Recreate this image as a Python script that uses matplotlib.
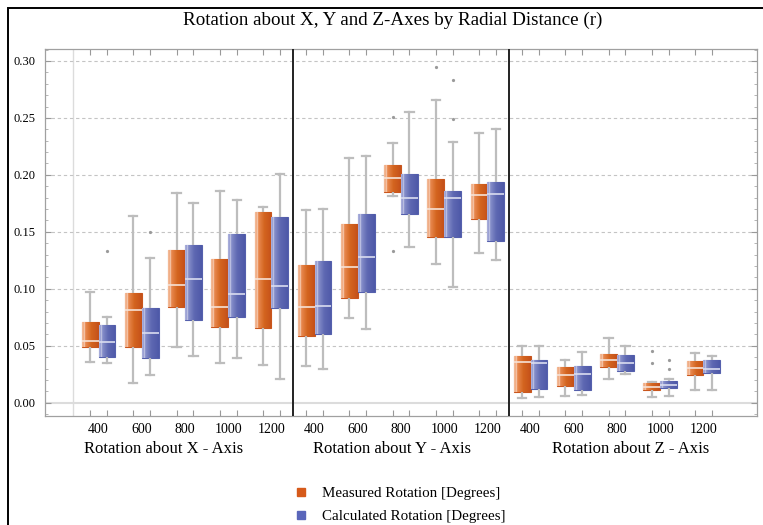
import numpy as np
import matplotlib
matplotlib.use("Agg")
import matplotlib.pyplot as plt
from matplotlib.patches import Rectangle
from matplotlib.lines import Line2D
from matplotlib.colors import to_rgb
from matplotlib.ticker import MultipleLocator

plt.rcParams['font.family'] = ['Liberation Serif', 'DejaVu Serif']

# ---- data -------------------------------------------------------------
distances = ["400", "600", "800", "1000", "1200"]
groups = ["Rotation about X - Axis", "Rotation about Y - Axis", "Rotation about Z - Axis"]
series = ["Measured Rotation [Degrees]", "Calculated Rotation [Degrees]"]

# per group: lists over distances -> (whislo, q1, med, q3, whishi)
measured_x_lo  = [0.036, 0.0175, 0.049, 0.0345, 0.033]
measured_x_q1  = [0.049, 0.0485, 0.084, 0.066, 0.0655]
measured_x_med = [0.054, 0.081, 0.103, 0.084, 0.1085]
measured_x_q3  = [0.071, 0.096, 0.134, 0.126, 0.1675]
measured_x_hi  = [0.097, 0.164, 0.184, 0.186, 0.172]
measured_x_out = [[], [], [], [], []]

calculated_x_lo  = [0.0345, 0.024, 0.041, 0.039, 0.0205]
calculated_x_q1  = [0.040, 0.039, 0.073, 0.075, 0.083]
calculated_x_med = [0.0535, 0.061, 0.109, 0.095, 0.102]
calculated_x_q3  = [0.068, 0.083, 0.138, 0.148, 0.1626]
calculated_x_hi  = [0.075, 0.127, 0.175, 0.178, 0.2006]
calculated_x_out = [[0.133], [0.150], [], [], []]

measured_y_lo  = [0.032, 0.0746, 0.1816, 0.122, 0.131]
measured_y_q1  = [0.0585, 0.0915, 0.185, 0.1456, 0.161]
measured_y_med = [0.0836, 0.119, 0.197, 0.1696, 0.182]
measured_y_q3  = [0.121, 0.157, 0.2085, 0.196, 0.192]
measured_y_hi  = [0.169, 0.215, 0.228, 0.2655, 0.237]
measured_y_out = [[], [], [0.251, 0.133], [0.295], []]

calculated_y_lo  = [0.030, 0.0646, 0.1365, 0.1018, 0.1254]
calculated_y_q1  = [0.060, 0.097, 0.166, 0.1456, 0.1418]
calculated_y_med = [0.085, 0.128, 0.180, 0.180, 0.1833]
calculated_y_q3  = [0.124, 0.166, 0.201, 0.1857, 0.1936]
calculated_y_hi  = [0.170, 0.217, 0.255, 0.2287, 0.240]
calculated_y_out = [[], [], [], [0.283, 0.249], []]

measured_z_lo  = [0.0038, 0.0058, 0.0209, 0.005, 0.011]
measured_z_q1  = [0.0093, 0.0145, 0.0314, 0.0108, 0.0244]
measured_z_med = [0.0358, 0.0247, 0.0378, 0.014, 0.0305]
measured_z_q3  = [0.0413, 0.0314, 0.0424, 0.0169, 0.0366]
measured_z_hi  = [0.050, 0.0378, 0.0564, 0.018, 0.0439]
measured_z_out = [[], [], [], [0.0456, 0.0352], []]

calculated_z_lo  = [0.005, 0.0064, 0.025, 0.0055, 0.011]
calculated_z_q1  = [0.0116, 0.011, 0.0282, 0.0128, 0.0262]
calculated_z_med = [0.0345, 0.0256, 0.0349, 0.0154, 0.030]
calculated_z_q3  = [0.0372, 0.0326, 0.0419, 0.0189, 0.0372]
calculated_z_hi  = [0.0494, 0.0445, 0.050, 0.0209, 0.0413]
calculated_z_out = [[], [], [], [0.0378, 0.030], []]

y_ticks = [0.00, 0.05, 0.10, 0.15, 0.20, 0.25, 0.30]

measured = [
    (measured_x_lo, measured_x_q1, measured_x_med, measured_x_q3, measured_x_hi, measured_x_out),
    (measured_y_lo, measured_y_q1, measured_y_med, measured_y_q3, measured_y_hi, measured_y_out),
    (measured_z_lo, measured_z_q1, measured_z_med, measured_z_q3, measured_z_hi, measured_z_out),
]
calculated = [
    (calculated_x_lo, calculated_x_q1, calculated_x_med, calculated_x_q3, calculated_x_hi, calculated_x_out),
    (calculated_y_lo, calculated_y_q1, calculated_y_med, calculated_y_q3, calculated_y_hi, calculated_y_out),
    (calculated_z_lo, calculated_z_q1, calculated_z_med, calculated_z_q3, calculated_z_hi, calculated_z_out),
]

# ---- styling ----------------------------------------------------------
ORANGE = "#C9561D"
BLUE = "#5560AD"
ORANGE_STOPS = [(0.0, "#F3BE9C"), (0.11, "#EFA57A"), (0.14, "#FBE6D8"), (0.19, "#E98A52"),
                (0.55, "#D4651F"), (1.0, "#C4501A")]
BLUE_STOPS = [(0.0, "#AEB3DD"), (0.11, "#9198CF"), (0.14, "#E2E4F3"), (0.19, "#8890CB"),
              (0.55, "#5E68B2"), (1.0, "#4E59A8")]


def gradient(stops, n=64):
    xs = np.linspace(0, 1, n)
    pos = [s[0] for s in stops]
    cols = np.array([to_rgb(s[1]) for s in stops])
    rgb = np.stack([np.interp(xs, pos, cols[:, c]) for c in range(3)], axis=-1)
    return rgb[np.newaxis, :, :]


W_PX, H_PX = 763, 525
fig = plt.figure(figsize=(W_PX / 100, H_PX / 100), dpi=100)
ax = fig.add_axes([45 / W_PX, 1 - 416 / H_PX, 712 / W_PX, 367 / H_PX])

offset = 0.195
box_w = 0.39
pair_centers = []
box_positions = []

for g in range(3):
    for s_idx, (data, color, stops) in enumerate(
            [(measured[g], ORANGE, ORANGE_STOPS), (calculated[g], BLUE, BLUE_STOPS)]):
        lo, q1, med, q3, hi, out = data
        stats = []
        positions = []
        for k in range(len(distances)):
            c = 1.24 + k + 5 * g
            if s_idx == 0:
                pair_centers.append(c)
            pos = c - offset if s_idx == 0 else c + offset
            positions.append(pos)
            box_positions.append(pos)
            stats.append(dict(whislo=lo[k], q1=q1[k], med=med[k], q3=q3[k],
                              whishi=hi[k], fliers=out[k]))
        res = ax.bxp(stats, positions=positions, widths=box_w, capwidths=0.19,
                     patch_artist=True, manage_ticks=False,
                     boxprops=dict(facecolor=color, edgecolor=color, linewidth=0.8),
                     whiskerprops=dict(color="#BDBDBD", linewidth=1.6),
                     capprops=dict(color="#BDBDBD", linewidth=1.6),
                     medianprops=dict(color="#F6E2D6" if s_idx == 0 else "#DADDF0", linewidth=1.2),
                     flierprops=dict(marker="o", markersize=1.3, markerfacecolor="#9A9A9A",
                                     markeredgecolor="#9A9A9A"))
        grad = gradient(stops)
        for patch in res["boxes"]:
            ext = patch.get_path().get_extents()
            im = ax.imshow(grad, extent=[ext.x0, ext.x1, ext.y0, ext.y1],
                           aspect="auto", interpolation="bilinear", zorder=patch.get_zorder() + 0.01)
            im.set_clip_path(patch)
        for m in res["medians"]:
            m.set_zorder(4)

# reference lines
ax.axhline(0.0, color="#DCDCDC", linewidth=1.5, zorder=0.5)
ax.axvline(0.64, color="#DCDCDC", linewidth=1.0, zorder=0.5)
for yv in y_ticks[1:]:
    ax.axhline(yv, color="#C4C4C4", linewidth=0.8, linestyle=(0, (3, 2.5)), zorder=0.5)
for xv in [5.74, 10.74]:
    ax.axvline(xv, color="#222222", linewidth=1.4, zorder=5)

ax.set_xlim(0, 16.48)
ax.set_ylim(-0.0117, 0.3105)

# ticks
ax.set_yticks(y_ticks)
ax.set_yticklabels([f"{v:.2f}" for v in y_ticks])
ax.yaxis.set_minor_locator(MultipleLocator(0.01))
ax.set_xticks(pair_centers)
ax.set_xticklabels(distances * 3)
ax.set_xticks(box_positions, minor=True)
ax.tick_params(axis="x", which="major", length=0, pad=5, labelsize=10)
ax.tick_params(axis="x", which="minor", length=4, direction="in", top=True, bottom=True,
               color="#999999", width=0.8)
ax.tick_params(axis="y", which="major", length=4, direction="in", left=True, right=True,
               color="#999999", width=0.8, labelsize=9, pad=7)
ax.tick_params(axis="y", which="minor", length=2, direction="in", left=True, right=True,
               color="#AAAAAA", width=0.6)
for sp in ax.spines.values():
    sp.set_color("#A0A0A0")
    sp.set_linewidth(0.9)

# group labels
for g, label in enumerate(groups):
    xc = [2.75, 8.03, 13.56][g]
    ax.text(xc, -0.0117 - 33 / 1139, label, ha="center", va="center", fontsize=12,
            transform=ax.transData, clip_on=False)

fig.suptitle("Rotation about X, Y and Z-Axes by Radial Distance (r)", x=393 / W_PX,
             y=1 - 20 / H_PX, va="center", fontsize=13.7)

handles = [Line2D([], [], linestyle="none", marker="s", markersize=5.5,
                  markerfacecolor=c, markeredgecolor=c) for c in ["#D65A1A", "#5A66BA"]]
fig.legend(handles, series, loc="center", bbox_to_anchor=(399 / W_PX, 1 - 505 / H_PX),
           frameon=False, fontsize=10.8, handlelength=1.0, handletextpad=0.9, labelspacing=0.62)

# outer frame
fig.add_artist(Rectangle((8 / W_PX, -0.2), 2.0, 1.2 - 8 / H_PX, transform=fig.transFigure,
                         fill=False, edgecolor="black", linewidth=1.4, clip_on=False))

fig.savefig("out.png", dpi=100)
